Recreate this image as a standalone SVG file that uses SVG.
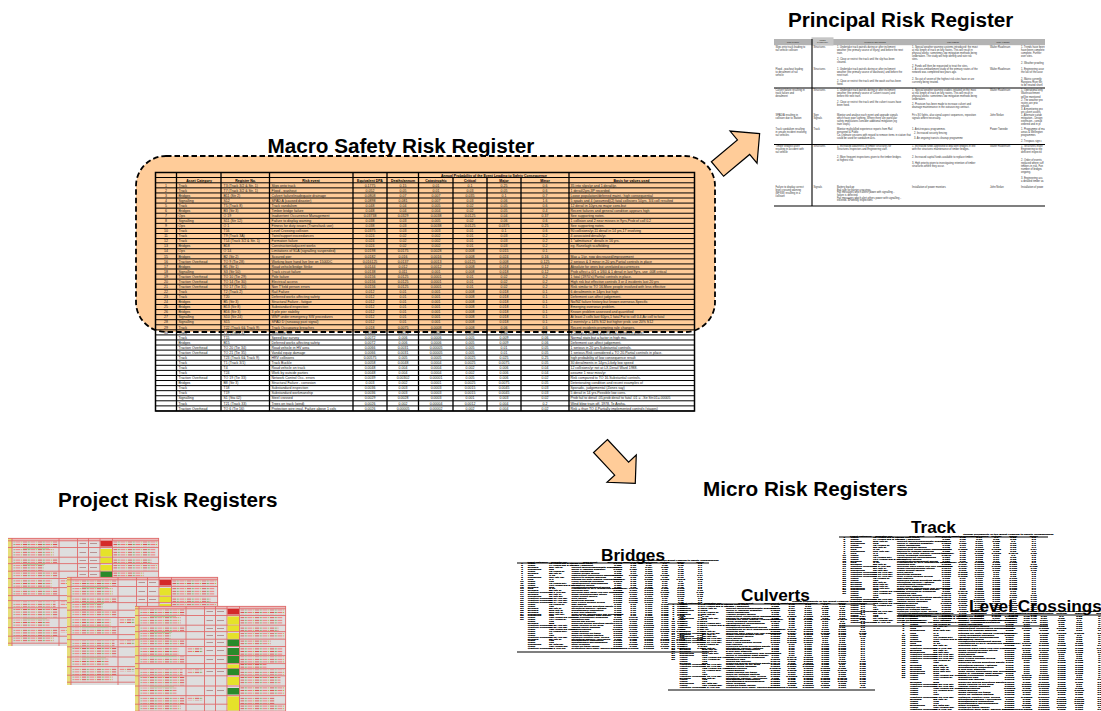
<svg xmlns="http://www.w3.org/2000/svg" xmlns:xlink="http://www.w3.org/1999/xlink" width="1101" height="711" viewBox="0 0 1101 711">
<style>
.t{font-family:"Liberation Sans",Arial,sans-serif;font-weight:bold;font-size:20.7px;fill:#000}
.mt{font-family:"Liberation Sans",Arial,sans-serif;font-weight:bold;font-size:17.2px;fill:#000}
.f{font-family:"Liberation Sans",Arial,sans-serif}
.c{text-anchor:middle}
.arr{fill:#FFCC99;stroke:#000;stroke-width:1.2;stroke-linejoin:miter}
.pt{font-family:"Liberation Sans",Arial,sans-serif;font-size:2.6px;fill:#333}
.ph{font-family:"Liberation Sans",Arial,sans-serif;font-size:2px;font-weight:bold;fill:#444}
.mic{fill:#000;stroke:#000;stroke-width:0.45}
</style>
<defs>
<clipPath id="pc"><rect x="774" y="36" width="271" height="172"/></clipPath>
<pattern id="tx" width="15" height="2.6" patternUnits="userSpaceOnUse">
<rect x="0" y="0.8" width="4" height="1" fill="#d55"/>
<rect x="4.6" y="0.8" width="2.2" height="1" fill="#8a6"/>
<rect x="7.4" y="0.8" width="5" height="1" fill="#e77"/>
<rect x="13" y="0.8" width="1.3" height="1" fill="#bb5"/>
</pattern>
<g id="hd" font-weight="bold">
<text x="338.5" y="4" class="c">Annual Probability of the Event Leading to Safety Consequence</text>
<text y="9"><tspan x="43.5" class="c">Asset Category</tspan><tspan x="90" class="c">Register No.</tspan><tspan x="155.5" class="c">Risk event</tspan><tspan x="214.5" class="c">Equivalent DPA</tspan><tspan x="247.5" class="c">Deaths/annum</tspan><tspan x="280.5" class="c">Catastrophic</tspan><tspan x="314.5" class="c">Critical</tspan><tspan x="348.5" class="c">Major</tspan><tspan x="389.5" class="c">Minor</tspan></text>
</g>
<g id="rt">
<text y="14.05"><tspan x="10.5" class="c">1</tspan><tspan x="23">Track</tspan><tspan x="68">T3 (Track 3/2 &amp; Str. 1)</tspan><tspan x="116">Slips onto track</tspan><tspan x="214.5" class="c">0.1775</tspan><tspan x="247.5" class="c">0.15</tspan><tspan x="280.5" class="c">0.01</tspan><tspan x="314.5" class="c">0.1</tspan><tspan x="348.5" class="c">0.25</tspan><tspan x="389.5" class="c">0.6</tspan></text>
<text y="19.12"><tspan x="10.5" class="c">2</tspan><tspan x="23">Track</tspan><tspan x="68">T7 (Track 3/2 &amp; Str. 1)</tspan><tspan x="116">Flood - washout</tspan><tspan x="214.5" class="c">0.052</tspan><tspan x="247.5" class="c">0.05</tspan><tspan x="280.5" class="c">0.01</tspan><tspan x="314.5" class="c">0.03</tspan><tspan x="348.5" class="c">0.05</tspan><tspan x="389.5" class="c">0.6</tspan></text>
<text y="24.19"><tspan x="10.5" class="c">3</tspan><tspan x="23">Bridges</tspan><tspan x="68">B11 (Str 2)</tspan><tspan x="116">Culvert failure/inadequate drainage</tspan><tspan x="214.5" class="c">0.0808</tspan><tspan x="247.5" class="c">0.07</tspan><tspan x="280.5" class="c">0.007</tspan><tspan x="314.5" class="c">0.035</tspan><tspan x="348.5" class="c">0.1</tspan><tspan x="389.5" class="c">0.7</tspan></text>
<text y="29.26"><tspan x="10.5" class="c">4</tspan><tspan x="23">Signalling</tspan><tspan x="68">S12</tspan><tspan x="116">SPAD A (caused disaster)</tspan><tspan x="214.5" class="c">0.0898</tspan><tspan x="247.5" class="c">0.081</tspan><tspan x="280.5" class="c">0.007</tspan><tspan x="314.5" class="c">0.03</tspan><tspan x="348.5" class="c">0.06</tspan><tspan x="389.5" class="c">1.6</tspan></text>
<text y="34.33"><tspan x="10.5" class="c">5</tspan><tspan x="23">Track</tspan><tspan x="68">T5 (Track 8)</tspan><tspan x="116">Track vandalism</tspan><tspan x="214.5" class="c">0.048</tspan><tspan x="247.5" class="c">0.04</tspan><tspan x="280.5" class="c">0.005</tspan><tspan x="314.5" class="c">0.02</tspan><tspan x="348.5" class="c">0.05</tspan><tspan x="389.5" class="c">0.6</tspan></text>
<text y="39.4"><tspan x="10.5" class="c">6</tspan><tspan x="23">Bridges</tspan><tspan x="68">B3 (Str 3)</tspan><tspan x="116">Timber bridge failure</tspan><tspan x="214.5" class="c">0.048</tspan><tspan x="247.5" class="c">0.04</tspan><tspan x="280.5" class="c">0.004</tspan><tspan x="314.5" class="c">0.02</tspan><tspan x="348.5" class="c">0.05</tspan><tspan x="389.5" class="c">0.4</tspan></text>
<text y="44.47"><tspan x="10.5" class="c">7</tspan><tspan x="23">Ops</tspan><tspan x="68">O 19</tspan><tspan x="116">Inadvertent Occurrence Management</tspan><tspan x="214.5" class="c">0.03738</tspan><tspan x="247.5" class="c">0.0329</tspan><tspan x="280.5" class="c">0.0038</tspan><tspan x="314.5" class="c">0.0125</tspan><tspan x="348.5" class="c">0.04</tspan><tspan x="389.5" class="c">0.37</tspan></text>
<text y="49.54"><tspan x="10.5" class="c">8</tspan><tspan x="23">Signalling</tspan><tspan x="68">S11 (Str 12)</tspan><tspan x="116">Failure to display warning</tspan><tspan x="214.5" class="c">0.038</tspan><tspan x="247.5" class="c">0.03</tspan><tspan x="280.5" class="c">0.005</tspan><tspan x="314.5" class="c">0.02</tspan><tspan x="348.5" class="c">0.06</tspan><tspan x="389.5" class="c">0.6</tspan></text>
<text y="54.61"><tspan x="10.5" class="c">9</tspan><tspan x="23">Ops</tspan><tspan x="68">O 1</tspan><tspan x="116">Fitness for duty issues (Trains/task use)</tspan><tspan x="214.5" class="c">0.038</tspan><tspan x="247.5" class="c">0.03</tspan><tspan x="280.5" class="c">0.0038</tspan><tspan x="314.5" class="c">0.0125</tspan><tspan x="348.5" class="c">0.0375</tspan><tspan x="389.5" class="c">0.25</tspan></text>
<text y="59.68"><tspan x="10.5" class="c">10</tspan><tspan x="23">Track</tspan><tspan x="68">T16</tspan><tspan x="116">Level Crossing collision</tspan><tspan x="214.5" class="c">0.0375</tspan><tspan x="247.5" class="c">0.03</tspan><tspan x="280.5" class="c">0.003</tspan><tspan x="314.5" class="c">0.01</tspan><tspan x="348.5" class="c">0.1</tspan><tspan x="389.5" class="c">0.6</tspan></text>
<text y="64.75"><tspan x="10.5" class="c">11</tspan><tspan x="23">Track</tspan><tspan x="68">T9 (Track 3A)</tspan><tspan x="116">Twist/support exceedances</tspan><tspan x="214.5" class="c">0.024</tspan><tspan x="247.5" class="c">0.02</tspan><tspan x="280.5" class="c">0.002</tspan><tspan x="314.5" class="c">0.01</tspan><tspan x="348.5" class="c">0.03</tspan><tspan x="389.5" class="c">0.2</tspan></text>
<text y="69.82"><tspan x="10.5" class="c">12</tspan><tspan x="23">Track</tspan><tspan x="68">T14 (Track 3/2 &amp; Str. 1)</tspan><tspan x="116">Formation failure</tspan><tspan x="214.5" class="c">0.024</tspan><tspan x="247.5" class="c">0.02</tspan><tspan x="280.5" class="c">0.002</tspan><tspan x="314.5" class="c">0.01</tspan><tspan x="348.5" class="c">0.03</tspan><tspan x="389.5" class="c">0.2</tspan></text>
<text y="74.89"><tspan x="10.5" class="c">13</tspan><tspan x="23">Bridges</tspan><tspan x="68">B18</tspan><tspan x="116">Construction/adjacent works</tspan><tspan x="214.5" class="c">0.024</tspan><tspan x="247.5" class="c">0.02</tspan><tspan x="280.5" class="c">0.002</tspan><tspan x="314.5" class="c">0.01</tspan><tspan x="348.5" class="c">0.03</tspan><tspan x="389.5" class="c">0.2</tspan></text>
<text y="79.96"><tspan x="10.5" class="c">14</tspan><tspan x="23">Ops</tspan><tspan x="68">O 14</tspan><tspan x="116">Limitations of SLA (signalling suspended)</tspan><tspan x="214.5" class="c">0.0198</tspan><tspan x="247.5" class="c">0.0175</tspan><tspan x="280.5" class="c">0.0028</tspan><tspan x="314.5" class="c">0.008</tspan><tspan x="348.5" class="c">0.015</tspan><tspan x="389.5" class="c">0.1</tspan></text>
<text y="85.03"><tspan x="10.5" class="c">15</tspan><tspan x="23">Bridges</tspan><tspan x="68">B2 (Str 2)</tspan><tspan x="116">Scoured pier</tspan><tspan x="214.5" class="c">0.0182</tspan><tspan x="247.5" class="c">0.016</tspan><tspan x="280.5" class="c">0.0016</tspan><tspan x="314.5" class="c">0.008</tspan><tspan x="348.5" class="c">0.024</tspan><tspan x="389.5" class="c">0.16</tspan></text>
<text y="90.1"><tspan x="10.5" class="c">16</tspan><tspan x="23">Traction Overhead</tspan><tspan x="68">TO 9 (Tie 28)</tspan><tspan x="116">Working bare hand live line on 1500DC</tspan><tspan x="214.5" class="c">0.016125</tspan><tspan x="247.5" class="c">0.0137</tspan><tspan x="280.5" class="c">0.0013</tspan><tspan x="314.5" class="c">0.0125</tspan><tspan x="348.5" class="c">0.008</tspan><tspan x="389.5" class="c">0.125</tspan></text>
<text y="95.17"><tspan x="10.5" class="c">17</tspan><tspan x="23">Bridges</tspan><tspan x="68">B1 (Str 1)</tspan><tspan x="116">Road vehicle/bridge Strike</tspan><tspan x="214.5" class="c">0.0144</tspan><tspan x="247.5" class="c">0.012</tspan><tspan x="280.5" class="c">0.0012</tspan><tspan x="314.5" class="c">0.008</tspan><tspan x="348.5" class="c">0.018</tspan><tspan x="389.5" class="c">0.12</tspan></text>
<text y="100.24"><tspan x="10.5" class="c">18</tspan><tspan x="23">Signalling</tspan><tspan x="68">S3 (Str 50)</tspan><tspan x="116">Track circuit failure</tspan><tspan x="214.5" class="c">0.0138</tspan><tspan x="247.5" class="c">0.011</tspan><tspan x="280.5" class="c">0.001</tspan><tspan x="314.5" class="c">0.008</tspan><tspan x="348.5" class="c">0.018</tspan><tspan x="389.5" class="c">0.12</tspan></text>
<text y="105.31"><tspan x="10.5" class="c">19</tspan><tspan x="23">Traction Overhead</tspan><tspan x="68">TO 10 (Tie 29)</tspan><tspan x="116">Pole failure</tspan><tspan x="214.5" class="c">0.0156</tspan><tspan x="247.5" class="c">0.0125</tspan><tspan x="280.5" class="c">0.0001</tspan><tspan x="314.5" class="c">0.01</tspan><tspan x="348.5" class="c">0.02</tspan><tspan x="389.5" class="c">0.2</tspan></text>
<text y="110.38"><tspan x="10.5" class="c">20</tspan><tspan x="23">Traction Overhead</tspan><tspan x="68">TO 14 (Tie 30)</tspan><tspan x="116">Electrical access</tspan><tspan x="214.5" class="c">0.0156</tspan><tspan x="247.5" class="c">0.0125</tspan><tspan x="280.5" class="c">0.0001</tspan><tspan x="314.5" class="c">0.01</tspan><tspan x="348.5" class="c">0.02</tspan><tspan x="389.5" class="c">0.2</tspan></text>
<text y="115.45"><tspan x="10.5" class="c">21</tspan><tspan x="23">Traction Overhead</tspan><tspan x="68">TO 17 (Tie 31)</tspan><tspan x="116">Non T'field person errors</tspan><tspan x="214.5" class="c">0.0156</tspan><tspan x="247.5" class="c">0.0125</tspan><tspan x="280.5" class="c">0.0001</tspan><tspan x="314.5" class="c">0.01</tspan><tspan x="348.5" class="c">0.02</tspan><tspan x="389.5" class="c">0.2</tspan></text>
<text y="120.52"><tspan x="10.5" class="c">22</tspan><tspan x="23">Track</tspan><tspan x="68">T2 (Track 2)</tspan><tspan x="116">Rail Failure</tspan><tspan x="214.5" class="c">0.012</tspan><tspan x="247.5" class="c">0.01</tspan><tspan x="280.5" class="c">0.001</tspan><tspan x="314.5" class="c">0.008</tspan><tspan x="348.5" class="c">0.018</tspan><tspan x="389.5" class="c">0.1</tspan></text>
<text y="125.59"><tspan x="10.5" class="c">23</tspan><tspan x="23">Track</tspan><tspan x="68">T20</tspan><tspan x="116">Deferred works affecting safety</tspan><tspan x="214.5" class="c">0.012</tspan><tspan x="247.5" class="c">0.01</tspan><tspan x="280.5" class="c">0.001</tspan><tspan x="314.5" class="c">0.008</tspan><tspan x="348.5" class="c">0.018</tspan><tspan x="389.5" class="c">0.1</tspan></text>
<text y="130.66"><tspan x="10.5" class="c">24</tspan><tspan x="23">Bridges</tspan><tspan x="68">B5 (Str 3)</tspan><tspan x="116">Structural Failure - fatigue</tspan><tspan x="214.5" class="c">0.012</tspan><tspan x="247.5" class="c">0.01</tspan><tspan x="280.5" class="c">0.001</tspan><tspan x="314.5" class="c">0.008</tspan><tspan x="348.5" class="c">0.018</tspan><tspan x="389.5" class="c">0.1</tspan></text>
<text y="135.73"><tspan x="10.5" class="c">25</tspan><tspan x="23">Bridges</tspan><tspan x="68">B13 (Str 8)</tspan><tspan x="116">Substandard inspection</tspan><tspan x="214.5" class="c">0.012</tspan><tspan x="247.5" class="c">0.01</tspan><tspan x="280.5" class="c">0.001</tspan><tspan x="314.5" class="c">0.008</tspan><tspan x="348.5" class="c">0.018</tspan><tspan x="389.5" class="c">0.1</tspan></text>
<text y="140.8"><tspan x="10.5" class="c">26</tspan><tspan x="23">Bridges</tspan><tspan x="68">B16 (Str 3)</tspan><tspan x="116">3 pile pier stability</tspan><tspan x="214.5" class="c">0.012</tspan><tspan x="247.5" class="c">0.01</tspan><tspan x="280.5" class="c">0.001</tspan><tspan x="314.5" class="c">0.008</tspan><tspan x="348.5" class="c">0.018</tspan><tspan x="389.5" class="c">0.1</tspan></text>
<text y="145.87"><tspan x="10.5" class="c">27</tspan><tspan x="23">Signalling</tspan><tspan x="68">S10 (Str 24)</tspan><tspan x="116">WSP under emergency SW procedures</tspan><tspan x="214.5" class="c">0.012</tspan><tspan x="247.5" class="c">0.01</tspan><tspan x="280.5" class="c">0.001</tspan><tspan x="314.5" class="c">0.008</tspan><tspan x="348.5" class="c">0.018</tspan><tspan x="389.5" class="c">0.1</tspan></text>
<text y="150.94"><tspan x="10.5" class="c">28</tspan><tspan x="23">Signalling</tspan><tspan x="68">S15</tspan><tspan x="116">SPAD D (runaway past signal)</tspan><tspan x="214.5" class="c">0.012</tspan><tspan x="247.5" class="c">0.01</tspan><tspan x="280.5" class="c">0.001</tspan><tspan x="314.5" class="c">0.008</tspan><tspan x="348.5" class="c">0.018</tspan><tspan x="389.5" class="c">0.1</tspan></text>
<text y="156.01"><tspan x="10.5" class="c">29</tspan><tspan x="23">Track</tspan><tspan x="68">T22 (Track 6&amp; Track 9)</tspan><tspan x="116">Track Occupancy breaches</tspan><tspan x="214.5" class="c">0.018</tspan><tspan x="247.5" class="c">0.0075</tspan><tspan x="280.5" class="c">0.0008</tspan><tspan x="314.5" class="c">0.008</tspan><tspan x="348.5" class="c">0.06</tspan><tspan x="389.5" class="c">0.6</tspan></text>
<text y="161.08"><tspan x="10.5" class="c">30</tspan><tspan x="23">Track</tspan><tspan x="68">T17 (Track 3)</tspan><tspan x="116">Sensitive use</tspan><tspan x="214.5" class="c">0.0106</tspan><tspan x="247.5" class="c">0.0075</tspan><tspan x="280.5" class="c">0.0008</tspan><tspan x="314.5" class="c">0.008</tspan><tspan x="348.5" class="c">0.06</tspan><tspan x="389.5" class="c">0.2</tspan></text>
<text y="166.15"><tspan x="23">Track</tspan><tspan x="68">T15</tspan><tspan x="116">Speed bar survey</tspan><tspan x="214.5" class="c">0.0072</tspan><tspan x="247.5" class="c">0.006</tspan><tspan x="280.5" class="c">0.0006</tspan><tspan x="314.5" class="c">0.005</tspan><tspan x="348.5" class="c">0.009</tspan><tspan x="389.5" class="c">0.06</tspan></text>
<text y="171.22"><tspan x="23">Bridges</tspan><tspan x="68">B15</tspan><tspan x="116">Deferred works affecting safety</tspan><tspan x="214.5" class="c">0.0072</tspan><tspan x="247.5" class="c">0.006</tspan><tspan x="280.5" class="c">0.0006</tspan><tspan x="314.5" class="c">0.005</tspan><tspan x="348.5" class="c">0.009</tspan><tspan x="389.5" class="c">0.06</tspan></text>
<text y="176.29"><tspan x="23">Traction Overhead</tspan><tspan x="68">TO 20 (Tie 34)</tspan><tspan x="116">Road vehicle in HV area</tspan><tspan x="214.5" class="c">0.0066</tspan><tspan x="247.5" class="c">0.0031</tspan><tspan x="280.5" class="c">0.00005</tspan><tspan x="314.5" class="c">0.005</tspan><tspan x="348.5" class="c">0.01</tspan><tspan x="389.5" class="c">0.05</tspan></text>
<text y="181.36"><tspan x="23">Traction Overhead</tspan><tspan x="68">TO 21 (Tie 35)</tspan><tspan x="116">Vandal equip damage</tspan><tspan x="214.5" class="c">0.0066</tspan><tspan x="247.5" class="c">0.0031</tspan><tspan x="280.5" class="c">0.00005</tspan><tspan x="314.5" class="c">0.005</tspan><tspan x="348.5" class="c">0.01</tspan><tspan x="389.5" class="c">0.05</tspan></text>
<text y="186.43"><tspan x="23">Track</tspan><tspan x="68">T23 (Track 6&amp; Track 9)</tspan><tspan x="116">HRV collisions</tspan><tspan x="214.5" class="c">0.00575</tspan><tspan x="247.5" class="c">0.005</tspan><tspan x="280.5" class="c">0.0005</tspan><tspan x="314.5" class="c">0.0025</tspan><tspan x="348.5" class="c">0.025</tspan><tspan x="389.5" class="c">0.25</tspan></text>
<text y="191.5"><tspan x="23">Track</tspan><tspan x="68">T1 (Track 3/1)</tspan><tspan x="116">Track Buckle</tspan><tspan x="214.5" class="c">0.0058</tspan><tspan x="247.5" class="c">0.0048</tspan><tspan x="280.5" class="c">0.0004</tspan><tspan x="314.5" class="c">0.0025</tspan><tspan x="348.5" class="c">0.0075</tspan><tspan x="389.5" class="c">0.05</tspan></text>
<text y="196.57"><tspan x="23">Track</tspan><tspan x="68">T4</tspan><tspan x="116">Road vehicle on track</tspan><tspan x="214.5" class="c">0.0048</tspan><tspan x="247.5" class="c">0.004</tspan><tspan x="280.5" class="c">0.0004</tspan><tspan x="314.5" class="c">0.002</tspan><tspan x="348.5" class="c">0.006</tspan><tspan x="389.5" class="c">0.04</tspan></text>
<text y="201.64"><tspan x="23">Track</tspan><tspan x="68">T24</tspan><tspan x="116">Work by outside parties</tspan><tspan x="214.5" class="c">0.0048</tspan><tspan x="247.5" class="c">0.004</tspan><tspan x="280.5" class="c">0.0004</tspan><tspan x="314.5" class="c">0.002</tspan><tspan x="348.5" class="c">0.006</tspan><tspan x="389.5" class="c">0.04</tspan></text>
<text y="206.71"><tspan x="23">Traction Overhead</tspan><tspan x="68">TO 19 (Tie 33)</tspan><tspan x="116">Network Control Occ. errors</tspan><tspan x="214.5" class="c">0.0039</tspan><tspan x="247.5" class="c">0.00302</tspan><tspan x="280.5" class="c">0.00001</tspan><tspan x="314.5" class="c">0.005</tspan><tspan x="348.5" class="c">0.006</tspan><tspan x="389.5" class="c">0.02</tspan></text>
<text y="211.78"><tspan x="23">Bridges</tspan><tspan x="68">B8 (Str 3)</tspan><tspan x="116">Structural Failure - corrosion</tspan><tspan x="214.5" class="c">0.003</tspan><tspan x="247.5" class="c">0.002</tspan><tspan x="280.5" class="c">0.0001</tspan><tspan x="314.5" class="c">0.0025</tspan><tspan x="348.5" class="c">0.0075</tspan><tspan x="389.5" class="c">0.05</tspan></text>
<text y="216.85"><tspan x="23">Track</tspan><tspan x="68">T18</tspan><tspan x="116">Substandard inspection</tspan><tspan x="214.5" class="c">0.0036</tspan><tspan x="247.5" class="c">0.003</tspan><tspan x="280.5" class="c">0.0003</tspan><tspan x="314.5" class="c">0.0015</tspan><tspan x="348.5" class="c">0.0045</tspan><tspan x="389.5" class="c">0.03</tspan></text>
<text y="221.92"><tspan x="23">Track</tspan><tspan x="68">T19</tspan><tspan x="116">Substandard workmanship</tspan><tspan x="214.5" class="c">0.0036</tspan><tspan x="247.5" class="c">0.003</tspan><tspan x="280.5" class="c">0.0003</tspan><tspan x="314.5" class="c">0.0015</tspan><tspan x="348.5" class="c">0.0045</tspan><tspan x="389.5" class="c">0.03</tspan></text>
<text y="226.99"><tspan x="23">Signalling</tspan><tspan x="68">S1 (Sta 02)</tspan><tspan x="116">Steel crossed</tspan><tspan x="214.5" class="c">0.0029</tspan><tspan x="247.5" class="c">0.0028</tspan><tspan x="280.5" class="c">0.0003</tspan><tspan x="314.5" class="c">0.001</tspan><tspan x="348.5" class="c">0.003</tspan><tspan x="389.5" class="c">0.02</tspan></text>
<text y="232.06"><tspan x="23">Track</tspan><tspan x="68">T21 (Track 33)</tspan><tspan x="116">Trees on track (wind)</tspan><tspan x="214.5" class="c">0.0026</tspan><tspan x="247.5" class="c">0.002</tspan><tspan x="280.5" class="c">0.00004</tspan><tspan x="314.5" class="c">0.0012</tspan><tspan x="348.5" class="c">0.004</tspan><tspan x="389.5" class="c">0.2</tspan></text>
<text y="237.13"><tspan x="23">Traction Overhead</tspan><tspan x="68">TO 6 (Tie 16)</tspan><tspan x="116">Protection wire insul. Failure above 1 cols</tspan><tspan x="214.5" class="c">0.0026</tspan><tspan x="247.5" class="c">0.00005</tspan><tspan x="280.5" class="c">0.00002</tspan><tspan x="314.5" class="c">0.002</tspan><tspan x="348.5" class="c">0.004</tspan><tspan x="389.5" class="c">0.02</tspan></text>
</g>
<g id="rb">
<text x="415" y="14.05">35 into slips/yr and 1 derail/yr.</text>
<text x="415" y="19.12">1 derail/2yrs,3P recorded.</text>
<text x="415" y="24.19">Loose population/deferred maint.; high consequential</text>
<text x="415" y="29.26">5 spads and 4 (assumed)(2) fatal collisions 50yrs, 3/4 coll resulted</text>
<text x="415" y="34.33">12 derail in 10yrs,no major cons.but</text>
<text x="415" y="39.4">Recent failures and general condition appears high</text>
<text x="415" y="44.47">See supporting notes.</text>
<text x="415" y="49.54">1 collision and 2 near misses in 9yrs,Prob of coll 0.2</text>
<text x="415" y="54.61">See supporting notes.</text>
<text x="415" y="59.68">90 collisions/yr,11 derail in 14 yrs,17 involving</text>
<text x="415" y="64.75">4 associated derails/yr.</text>
<text x="415" y="69.82">1 "admittance" derails in 16 yrs.</text>
<text x="415" y="74.89">eg. Ranelagh scaffolding</text>
<text x="415" y="85.03">Max = 1/yr, now decreased/improvement</text>
<text x="415" y="90.1">2 serious &amp; 3 minor in 20 yrs.Partial controls in place</text>
<text x="415" y="95.17">Absolute for ones but unrelated occurrences</text>
<text x="415" y="100.24">Prob affect = 0/1 x 1/60 &amp; 1 derail in last 9yrs, use .008 critical</text>
<text x="415" y="105.31">1 fatal (1970's) Partial controls in place.</text>
<text x="415" y="110.38">High risk but effective controls 3 or 4 incidents last 20 yrs</text>
<text x="415" y="115.45">Risk similar to TO 16.More people involved with less effective</text>
<text x="415" y="120.52">6 derailments in 14yrs but high</text>
<text x="415" y="125.59">Deferment can affect judgement.</text>
<text x="415" y="130.66">No/NZ failure history but known overseas.Specific</text>
<text x="415" y="135.73">Emerging overseas problem.</text>
<text x="415" y="140.8">Known problem assessed and quantified</text>
<text x="415" y="145.87">At least 2 colls last 60yrs,1 fatal.Fat to coll 0.4,Av coll to fatal</text>
<text x="415" y="150.94">2 events/yr = 14% S12 but higher prob. use 20% S12</text>
<text x="415" y="156.01">Recent incidents prompting rule changes.</text>
<text x="415" y="161.08">1 Coll/yr, 1 fatal (4 yrs) Partial controls in place.</text>
<text x="415" y="166.15">Normal stats but a factor in high mu.</text>
<text x="415" y="171.22">Deferment can affect judgement.</text>
<text x="415" y="176.29">1 serious in 20 yrs.Substantial controls.</text>
<text x="415" y="181.36">1 serious.Risk considered = TO 20.Partial controls in place.</text>
<text x="415" y="186.43">high probability of low consequence result</text>
<text x="415" y="191.5">30 derailments in 14yrs,Likely low speed</text>
<text x="415" y="196.57">12 collisions/yr not at LX,Derail Ward 1988.</text>
<text x="415" y="201.64">assume 1 near miss/yr</text>
<text x="415" y="206.71">Risk compared to TO 16.Substantial controls.</text>
<text x="415" y="211.78">Deteriorating condition and recent examples of</text>
<text x="415" y="216.85">Sporadic, judgemental (Zones say)</text>
<text x="415" y="221.92">5 derail in 14 yrs.Possible low cons.</text>
<text x="415" y="226.99">Prob fail to derail .05,prob derail to fatal .01 = ..Se Str.01=.00005</text>
<text x="415" y="232.06">Wind blew train off, 1978, Te Aroha.</text>
<text x="415" y="237.13">Risk = than TO 4.Partially implemented controls (stages)</text>
</g>
<g id="sheet">
<rect width="151" height="108" fill="#dedede"/>
<rect width="151" height="2.8" fill="#ebbcbc"/>
<rect width="4" height="108" fill="#e6df7a"/>
<g fill="url(#tx)">
<rect x="5.5" y="3.4" width="44" height="5.6"/><rect x="5.5" y="11" width="40" height="7.8"/><rect x="5.5" y="20" width="44" height="5.2"/><rect x="5.5" y="26.5" width="30" height="6.2"/><rect x="5.5" y="34" width="44" height="6"/><rect x="5.5" y="41" width="38" height="8"/><rect x="5.5" y="50.5" width="44" height="6.8"/><rect x="5.5" y="63.5" width="42" height="6"/><rect x="5.5" y="70.5" width="44" height="9"/><rect x="5.5" y="81.5" width="36" height="7.6"/><rect x="5.5" y="90.5" width="44" height="7.4"/><rect x="5.5" y="99" width="40" height="5.6"/>
<rect x="105.5" y="3.4" width="44" height="5.2"/><rect x="105.5" y="10.5" width="42" height="7.8"/><rect x="105.5" y="20" width="38" height="5"/><rect x="105.5" y="27" width="44" height="5.2"/><rect x="105.5" y="34" width="30" height="5.6"/><rect x="105.5" y="41" width="42" height="8"/><rect x="105.5" y="50.5" width="44" height="6.8"/><rect x="105.5" y="58" width="26" height="4"/><rect x="105.5" y="63.5" width="44" height="6"/><rect x="105.5" y="71" width="40" height="8"/><rect x="105.5" y="81" width="44" height="8"/><rect x="105.5" y="90.5" width="34" height="7.4"/><rect x="105.5" y="99" width="44" height="5.6"/>
<rect x="52.5" y="41.5" width="15" height="5"/><rect x="52.5" y="63.5" width="15" height="4"/><rect x="52.5" y="90.5" width="15" height="4"/>
</g>
<g fill="#b3d4ab"><rect x="15" y="9.8" width="26" height="1.2"/><rect x="15" y="25.8" width="22" height="1.2"/><rect x="15" y="49.8" width="26" height="1.2"/><rect x="15" y="80.2" width="24" height="1.2"/></g>
<g fill="#b48a8a"><rect x="71.5" y="5" width="6.5" height="0.9"/><rect x="82" y="5" width="7" height="0.9"/><rect x="71.5" y="14" width="6.5" height="0.9"/><rect x="82" y="14" width="7" height="0.9"/><rect x="71.5" y="22" width="6.5" height="0.9"/><rect x="82" y="22" width="7" height="0.9"/><rect x="71.5" y="29" width="6.5" height="0.9"/><rect x="82" y="29" width="7" height="0.9"/><rect x="71.5" y="36" width="6.5" height="0.9"/><rect x="82" y="36" width="7" height="0.9"/><rect x="71.5" y="44" width="6.5" height="0.9"/><rect x="82" y="44" width="7" height="0.9"/><rect x="71.5" y="53" width="6.5" height="0.9"/><rect x="82" y="53" width="7" height="0.9"/><rect x="71.5" y="65" width="6.5" height="0.9"/><rect x="82" y="65" width="7" height="0.9"/><rect x="71.5" y="84" width="6.5" height="0.9"/><rect x="82" y="84" width="7" height="0.9"/></g>
<path d="M0 0.4H151M0 2.8H151M0 9.5H151M0 19.2H151M0 25.6H151M0 33.2H151M0 40.5H151M0 49.6H151M0 57.6H151M0 62.6H151M0 69.8H151M0 80H151M0 89.6H151M0 98.2H151M0 105.2H151M4 0V108M51 0V108M69.5 0V108M80.5 0V108M92 0V108M104.5 0V108M150.6 0V108" fill="none" stroke="#e06b6b" stroke-width="0.9"/>
</g>
</defs>

<rect width="1101" height="711" fill="#fff"/>

<g id="macro">
<text class="t" x="267.5" y="153">Macro Safety Risk Register</text>
<rect x="136" y="156" width="579" height="176" rx="30" fill="#FFCC99"/>
<rect x="155.5" y="332" width="539" height="79" fill="#fff"/>
<g class="f" transform="translate(155.5 172.5)">
<use xlink:href="#hd" href="#hd" font-size="3.5" fill="#000"/>
<text x="476" y="9" class="c" font-size="3.5" font-weight="bold" fill="#000">Basis for values used</text>
<use xlink:href="#rt" href="#rt" font-size="3.5" fill="#1a1a1a"/>
<use xlink:href="#rb" href="#rb" font-size="3.5" fill="#1a1a1a"/>
</g>
<path d="M155.5 177.5h539M155.5 182.8h539m-539 5.07h539m-539 5.07h539m-539 5.07h539m-539 5.07h539m-539 5.07h539m-539 5.07h539m-539 5.07h539m-539 5.07h539m-539 5.07h539m-539 5.07h539m-539 5.07h539m-539 5.07h539m-539 5.07h539m-539 5.07h539m-539 5.07h539m-539 5.07h539m-539 5.07h539m-539 5.07h539m-539 5.07h539m-539 5.07h539m-539 5.07h539m-539 5.07h539m-539 5.07h539m-539 5.07h539m-539 5.07h539m-539 5.07h539m-539 5.07h539m-539 5.07h539m-539 5.07h539m-539 5.07h539m-539 5.07h539m-539 5.07h539m-539 5.07h539m-539 5.07h539m-539 5.07h539m-539 5.07h539m-539 5.07h539m-539 5.07h539m-539 5.07h539m-539 5.07h539m-539 5.07h539m-539 5.07h539m-539 5.07h539m-539 5.07h539m-539 5.07h539" fill="none" stroke="#000" stroke-width="1"/>
<path d="M176.5 172.5V411M221 172.5V411M269.5 172.5V411M353 172.5V411M387 172.5V411M418.5 172.5V411M453 177.5V411M487 177.5V411M521 177.5V411M569 172.5V411" fill="none" stroke="#000" stroke-width="1.3"/>
<rect x="155.5" y="172.5" width="539" height="238.5" fill="none" stroke="#000" stroke-width="1.5"/>
<rect x="136" y="156" width="579" height="176" rx="30" fill="none" stroke="#000" stroke-width="1.8" stroke-dasharray="5.5 3"/>
</g>

<g id="principal">
<text class="t" x="788" y="26.5">Principal Risk Register</text>
<g clip-path="url(#pc)">
<rect x="774" y="39" width="271" height="6.2" fill="#b3b3b3"/>
<rect x="811.5" y="37.3" width="22" height="8.2" fill="#c6c6c6"/>
<g class="ph">
<text x="793" y="43" class="c">RISK EVENT</text>
<text x="822.5" y="40.6" class="c">ASSET</text>
<text x="822.5" y="43" class="c">CATEGORY</text>
<text x="875" y="43" class="c">CONTROL MEASURES</text>
<text x="953" y="43" class="c">TREATMENT</text>
<text x="1003" y="43" class="c">RISK OWNER</text>
</g>
<g class="pt">
<text x="775.5" y="48">Slips onto track leading to</text>
<text x="775.5" y="51">rail vehicle collision</text>
<text x="775.5" y="70">Flood - washout leading</text>
<text x="775.5" y="73">to derailment of rail</text>
<text x="775.5" y="76">vehicle</text>
<text x="775.5" y="91">Culvert failure resulting in</text>
<text x="775.5" y="94">track failure and</text>
<text x="775.5" y="97">derailment</text>
<text x="775.5" y="116">SPAD/A resulting in</text>
<text x="775.5" y="119">collision due to Station</text>
<text x="775.5" y="130">Track vandalism resulting</text>
<text x="775.5" y="133">in unsafe incident involving</text>
<text x="775.5" y="136">rail vehicles</text>
<text x="775.5" y="147">Timber bridge/culvert</text>
<text x="775.5" y="150">resulting in accident with</text>
<text x="775.5" y="153">rail vehicle</text>
<text x="775.5" y="188">Failure to display correct</text>
<text x="775.5" y="191">level crossing warning</text>
<text x="775.5" y="194">(BFSW) resulting in a</text>
<text x="775.5" y="197">collision</text>
<text x="813.5" y="48">Structures</text>
<text x="813.5" y="70">Structures</text>
<text x="813.5" y="91">Structures</text>
<text x="813.5" y="116">Sign</text>
<text x="813.5" y="119">Signals</text>
<text x="813.5" y="130">Track</text>
<text x="813.5" y="147">Structures</text>
<text x="813.5" y="188">Signals</text>
<text x="837" y="48">1. Undertake track patrols during or after inclement</text>
<text x="837" y="51">weather (the primary source of injury) and before the next</text>
<text x="837" y="54">train.</text>
<text x="837" y="59.5">2. Close or restrict the track until the slip has been</text>
<text x="837" y="62.5">cleared.</text>
<text x="837" y="70">1. Undertake track patrols during or after inclement</text>
<text x="837" y="73">weather (the primary source of washouts) and before the</text>
<text x="837" y="76">next train.</text>
<text x="837" y="81.5">2. Close or restrict the track until the wash out has been</text>
<text x="837" y="84.5">fixed.</text>
<text x="837" y="91">1. Undertake track patrols during or after inclement</text>
<text x="837" y="94">weather (the primary source of Culvert issues) and</text>
<text x="837" y="97">before the next train.</text>
<text x="837" y="102.5">2. Close or restrict the track until the culvert issues have</text>
<text x="837" y="105.5">been fixed.</text>
<text x="837" y="116">Monitor and analyse each event and upgrade signals</text>
<text x="837" y="119">which have poor sighting.  Where there are particular</text>
<text x="837" y="122">safety implications consider additional mitigation (eg</text>
<text x="837" y="125">train stops).</text>
<text x="837" y="130">Monitor multiskilled experience reports from Rail</text>
<text x="837" y="133">personnel &amp; Public</text>
<text x="837" y="135.5">Co-Ordinate sessions with regard to remove items in station that</text>
<text x="837" y="138.5">could be used for vandalism acts.</text>
<text x="837" y="147">1. Increased awareness of timber structures for</text>
<text x="837" y="150">Structures Inspectors and Engineering staff.</text>
<text x="837" y="157.5">2. More frequent inspections given to the timber bridges</text>
<text x="837" y="160.5">at highest risk.</text>
<text x="837" y="188">Battery backup</text>
<text x="837" y="190.5">Fail safe for barrier crossings</text>
<text x="837" y="193">Fail messages which alters (down with signalling -</text>
<text x="837" y="195.5">failure is detected.</text>
<text x="837" y="198.5">Fail messages which alert others power with signalling -</text>
<text x="837" y="201">exceeds 30 weekly inspections</text>
<text x="912" y="48">1. Special weather warning systems introduced: the most</text>
<text x="912" y="51">at risk length of track on key routes. This will result in</text>
<text x="912" y="54">physical works; sometimes low mitigation methods being</text>
<text x="912" y="57">undertaken. The study will help identify and rate risk</text>
<text x="912" y="60">sites.</text>
<text x="912" y="67">2. Funds will then be requested to treat the sites.</text>
<text x="912" y="70">1. A cross-embankment study of the primary routes of the</text>
<text x="912" y="73">network was completed two years ago.</text>
<text x="912" y="80">2. Six out of seven of the highest risk sites have or are</text>
<text x="912" y="83">currently being treated.</text>
<text x="912" y="91">1. Special weather warning studies initiated on the most</text>
<text x="912" y="94">at risk length of track on key routes. This will result in</text>
<text x="912" y="97">physical works: sometimes low mitigation methods being</text>
<text x="912" y="100">undertaken.</text>
<text x="912" y="104.5">2. Provision has been made to increase culvert and</text>
<text x="912" y="107.5">drainage maintenance in the outsourcing contract.</text>
<text x="912" y="116">Fit v.SO lights, also signal aspect sequences, reposition</text>
<text x="912" y="119">signals where necessary.</text>
<text x="912" y="130">1. Anti-trespass programmes</text>
<text x="914" y="134">2.   Increased security fencing</text>
<text x="914" y="139">3.   An ongoing transits cleanup programme</text>
<text x="912" y="147">1. Increased funds approved to deal with bridges in line</text>
<text x="912" y="150">with the structures maintenance of timber bridges.</text>
<text x="912" y="157.5">2. Increased capital funds available to replace timber.</text>
<text x="912" y="163.5">3. High priority given to investigating retention of timber</text>
<text x="912" y="166.5">structures where they occur.</text>
<text x="912" y="188">Installation of power monitors</text>
<text x="990" y="48">Walter Rawlinson</text>
<text x="990" y="70">Walter Rawlinson</text>
<text x="990" y="91">Walter Rawlinson</text>
<text x="990" y="116">John Neilan</text>
<text x="990" y="130">Power Tweedie</text>
<text x="990" y="147">Walter Rawlinson</text>
<text x="990" y="188">John Neilan</text>
<text x="1021" y="48">1. Trends have been</text>
<text x="1021" y="51">have been complete</text>
<text x="1021" y="54">complete. Further</text>
<text x="1021" y="57">over sites.</text>
<text x="1021" y="64">2. Weather proofing</text>
<text x="1021" y="70">1. Engineering asse</text>
<text x="1021" y="73">the last of the asse</text>
<text x="1021" y="79.5">2. Matrix currently</text>
<text x="1021" y="82.5">Rangiora River Bri</text>
<text x="1021" y="85.5">to be treated shortl</text>
<text x="1021" y="91">1. Operational only</text>
<text x="1021" y="94">Watercatchment</text>
<text x="1021" y="97.5">will be monitored</text>
<text x="1021" y="100.5">2. The weather pro</text>
<text x="1021" y="103.5">routes are prio</text>
<text x="1021" y="106.5">rebuild.</text>
<text x="1021" y="109.5">3. A monitoring pro</text>
<text x="1021" y="112.5">on culvert assets</text>
<text x="1021" y="116">1. Alternate suitab</text>
<text x="1021" y="119">mitigation - Design</text>
<text x="1021" y="122">extension - consid</text>
<text x="1021" y="125">ordered and in pl</text>
<text x="1021" y="130">1. Programme of ma</text>
<text x="1021" y="133">areas &amp; Wellington</text>
<text x="1021" y="136">programmes</text>
<text x="1021" y="142">2. Trespass sign c</text>
<text x="1021" y="147">1. Structures inspe</text>
<text x="1021" y="150">Engineering to rep</text>
<text x="1021" y="153">deficient inspectio</text>
<text x="1021" y="160.5">2. Order of events</text>
<text x="1021" y="163.5">replaced where suff</text>
<text x="1021" y="166.5">timbers in risk. Fun</text>
<text x="1021" y="169.5">number of bridges</text>
<text x="1021" y="172.5">ongoing.</text>
<text x="1021" y="178.5">3. Engineering ass</text>
<text x="1021" y="181.5">a detailed timber as</text>
<text x="1021" y="188">Installation of powe</text>
</g>
<path d="M812 39V206M774 88H1045M774 144.5H1045M774 206H1045" fill="none" stroke="#000" stroke-width="1.1"/>
</g>
</g>

<g id="project">
<text class="t" x="58" y="507">Project Risk Registers</text>
<g id="project-sheet-1" transform="translate(8 538)">
<use xlink:href="#sheet" href="#sheet"/>
<rect x="92.5" y="3" width="11.5" height="5.5" fill="#d42a2a"/>
<rect x="92.5" y="11" width="11.5" height="7.5" fill="#e5e22a"/>
<rect x="92.5" y="19.8" width="11.5" height="5.2" fill="#e5e22a"/>
<rect x="92.5" y="27" width="11.5" height="5.6" fill="#e5e22a"/>
<rect x="92.5" y="33.6" width="11.5" height="5.4" fill="#2a8a2a"/>
</g>
<g id="project-sheet-2" transform="translate(67 577)">
<use xlink:href="#sheet" href="#sheet"/>
<rect x="92.5" y="3" width="11.5" height="5.5" fill="#d42a2a"/>
<rect x="92.5" y="11" width="11.5" height="7.5" fill="#e5e22a"/>
<rect x="92.5" y="19.8" width="11.5" height="5.2" fill="#e5e22a"/>
<rect x="92.5" y="27" width="11.5" height="5.6" fill="#e5e22a"/>
</g>
<g id="project-sheet-3" transform="translate(135 606)">
<use xlink:href="#sheet" href="#sheet"/>
<rect x="92.5" y="3" width="11.5" height="5.5" fill="#d42a2a"/>
<rect x="92.5" y="10.5" width="11.5" height="8" fill="#e5e22a"/>
<rect x="92.5" y="19.5" width="11.5" height="5.6" fill="#e5e22a"/>
<rect x="92.5" y="27" width="11.5" height="5.8" fill="#e5e22a"/>
<rect x="92.5" y="33.6" width="11.5" height="6.4" fill="#2a8a2a"/>
<rect x="92.5" y="42" width="11.5" height="7" fill="#2a8a2a"/>
<rect x="92.5" y="50" width="11.5" height="7" fill="#2a8a2a"/>
<rect x="92.5" y="58.5" width="11.5" height="3.6" fill="#e5e22a"/>
<rect x="92.5" y="62.8" width="11.5" height="6.2" fill="#2a8a2a"/>
<rect x="92.5" y="71" width="11.5" height="8" fill="#e5e22a"/>
<rect x="92.5" y="82" width="11.5" height="6.5" fill="#2a8a2a"/>
<rect x="92.5" y="90.5" width="11.5" height="14" fill="#e5e22a"/>
</g>
</g>

<g id="micro">
<text class="t" x="703" y="496">Micro Risk Registers</text>
<g id="bridges" class="f" font-weight="bold">
<use xlink:href="#hd" href="#hd" class="mic" transform="translate(517 559.1) scale(0.47 0.38)" font-size="6"/>
<use xlink:href="#rt" href="#rt" class="mic" transform="translate(517 559.1) scale(0.47 0.38)" font-size="6"/>
<path d="M517 563h192M517 652h192" stroke="#000" stroke-width="1.1"/>
<text class="mt" x="601" y="561">Bridges</text>
</g>
<g id="culverts" class="f" font-weight="bold">
<use xlink:href="#hd" href="#hd" class="mic" transform="translate(668 600.2) scale(0.5 0.37)" font-size="6"/>
<use xlink:href="#rt" href="#rt" class="mic" transform="translate(668 600.2) scale(0.5 0.37)" font-size="6"/>
<path d="M668 604h207M668 690h207" stroke="#000" stroke-width="1.1"/>
<text class="mt" x="741" y="601">Culverts</text>
</g>
<g id="track" class="f" font-weight="bold">
<use xlink:href="#hd" href="#hd" class="mic" transform="translate(839 533.1) scale(0.5 0.38)" font-size="6"/>
<use xlink:href="#rt" href="#rt" class="mic" transform="translate(839 533.1) scale(0.5 0.38)" font-size="6"/>
<path d="M839 537h209M839 626h209" stroke="#000" stroke-width="1.1"/>
<text class="mt" x="911" y="533">Track</text>
</g>
<g id="level-crossings" class="f" font-weight="bold">
<use xlink:href="#hd" href="#hd" class="mic" transform="translate(898 610.7) scale(0.52 0.42)" font-size="6"/>
<use xlink:href="#rt" href="#rt" class="mic" transform="translate(898 610.7) scale(0.52 0.42)" font-size="6"/>
<path d="M898 615h215M898 712h215" stroke="#000" stroke-width="1.1"/>
<text class="mt" x="969" y="612">Level Crossings</text>
</g>
</g>

<g id="connectors">
<polygon class="arr" points="0,-9.5 34,-9.5 34,-21 55,0 34,21 34,9.5 0,9.5" transform="translate(717.5 169) rotate(-40)"/>
<polygon class="arr" points="0,-9.5 31,-9.5 31,-20 51,0 31,20 31,9.5 0,9.5" transform="translate(600.5 446) rotate(47)"/>
</g>
</svg>
